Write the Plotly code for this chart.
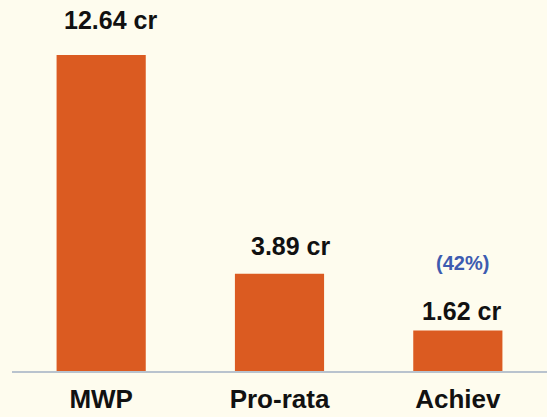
import plotly.graph_objects as go

categories = ["MWP", "Pro-rata", "Achiev"]
values = [12.64, 3.89, 1.62]
value_labels = ["12.64 cr", "3.89 cr", "1.62 cr"]
pct_label = "(42%)"

BG = "#FEFCEE"
BAR = "#DB5B21"

fig = go.Figure()
fig.add_trace(go.Bar(
    x=categories, y=values, width=0.5,
    marker=dict(color=BAR, line=dict(width=0)),
    hoverinfo="skip",
))

label_shifts = [(9, 35), (11, 28), (4, 20)]
for c, v, t, (dx, dy) in zip(categories, values, value_labels, label_shifts):
    fig.add_annotation(x=c, y=v, text=f"<b>{t}</b>", showarrow=False,
                       xshift=dx, yshift=dy, yanchor="middle",
                       font=dict(family="Liberation Sans, Arial", size=25, color="#111111"))

fig.add_annotation(x=categories[2], y=values[2], text=f"<b>{pct_label}</b>", showarrow=False,
                   xshift=5, yshift=68, yanchor="middle",
                   font=dict(family="Liberation Sans, Arial", size=20, color="#3D5BB0"))

fig.update_layout(
    width=547, height=417,
    margin=dict(l=12, r=0, t=0, b=46),
    paper_bgcolor=BG, plot_bgcolor=BG,
    showlegend=False,
    bargap=0.5,
    xaxis=dict(range=[-0.5, 2.5], showgrid=False, zeroline=False,
               showline=True, linecolor="#B9C3CE", linewidth=2,
               ticks="", ticklabelstandoff=4,
               tickfont=dict(family="Liberation Sans, Arial", size=26, color="#111111")),
    yaxis=dict(range=[0, 14.84], showgrid=False, zeroline=False,
               showticklabels=False, showline=False),
)
fig.update_xaxes(ticktext=[f"<b>{c}</b>" for c in categories], tickvals=categories)

fig.write_html("out.html", config={"displayModeBar": False},
               post_script="document.body.style.margin='0';")
